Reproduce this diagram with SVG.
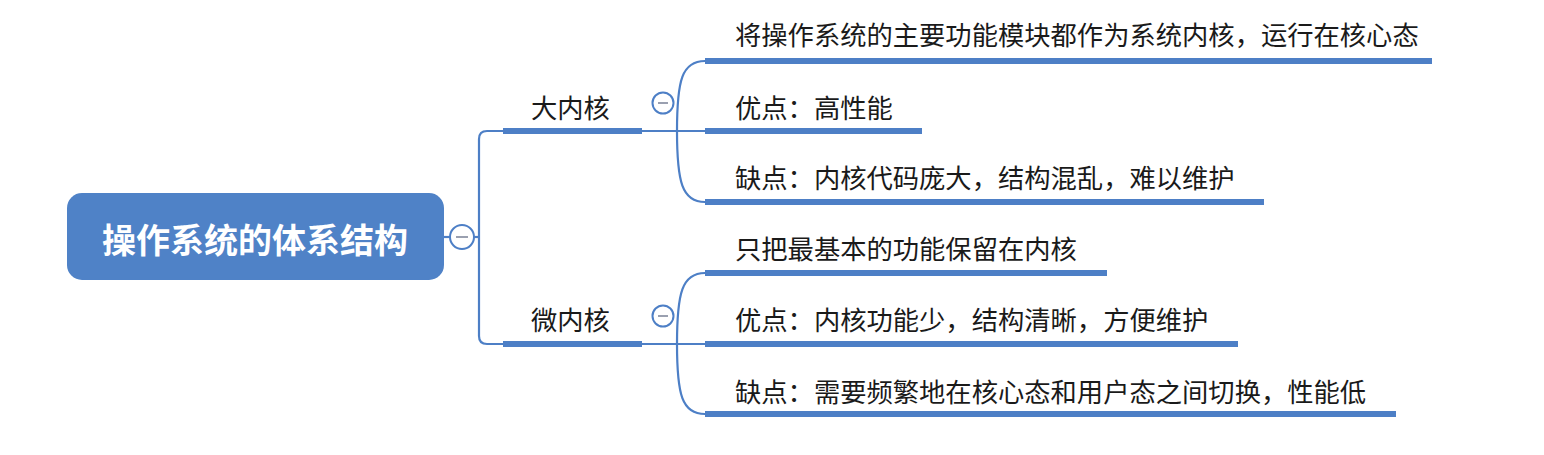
<svg xmlns="http://www.w3.org/2000/svg" width="1544" height="455" viewBox="0 0 1544 455">
<style>
.t{font-family:"Noto Sans CJK SC","Noto Sans",sans-serif;font-size:26.3px;fill:#1a1a1a;}
.root{font-family:"Noto Sans CJK SC","Noto Sans",sans-serif;font-size:34px;font-weight:bold;fill:#ffffff;}
.ul{stroke:#4d7fc6;stroke-width:6;fill:none;}
.ln{stroke:#4d7fc6;stroke-width:2.2;fill:none;}
.col{fill:#ffffff;stroke:#4d7fc6;stroke-width:2;}
.minus{stroke:#9aa0b0;stroke-width:2;}
</style>
<rect width="1544" height="455" fill="#ffffff"/>
<g id="connectors">
<path class="ln" d="M 444 237 L 450 237"/>
<path class="ln" d="M 474 237 L 479 237"/>
<path class="ln" d="M 503 131 L 487 131 Q 479 131 479 139 L 479 336 Q 479 344 487 344 L 503 344"/>
<path class="ln" d="M 642 131 L 705 131"/>
<path class="ln" d="M 677 131 C 677 80, 682 61, 705 61"/>
<path class="ln" d="M 677 131 C 677 182, 682 202, 705 202"/>
<path class="ln" d="M 642 344 L 705 344"/>
<path class="ln" d="M 677 344 C 677 293, 682 273, 705 273"/>
<path class="ln" d="M 677 344 C 677 395, 682 414, 705 414"/>
</g>
<g id="root">
<rect x="67" y="193" width="377" height="87" rx="15" fill="#4f82c7"/>
<text class="root" x="255" y="238" text-anchor="middle" dominant-baseline="central">操作系统的体系结构</text>
<circle class="col" cx="462" cy="237" r="12"/>
<line class="minus" x1="456" y1="237" x2="468" y2="237"/>
</g>
<g id="n-big">
<text class="t" x="531" y="106" dominant-baseline="central">大内核</text>
<line class="ul" x1="503" y1="131" x2="642" y2="131"/>
<circle class="col" cx="663" cy="103" r="10.5"/>
<line class="minus" x1="658" y1="103" x2="668" y2="103"/>
</g>
<g id="n-big-1">
<text class="t" x="735" y="33" dominant-baseline="central">将操作系统的主要功能模块都作为系统内核，运行在核心态</text>
<line class="ul" x1="705" y1="61" x2="1432" y2="61"/>
</g>
<g id="n-big-2">
<text class="t" x="735" y="106" dominant-baseline="central">优点：高性能</text>
<line class="ul" x1="705" y1="131" x2="922" y2="131"/>
</g>
<g id="n-big-3">
<text class="t" x="735" y="176" dominant-baseline="central">缺点：内核代码庞大，结构混乱，难以维护</text>
<line class="ul" x1="705" y1="202" x2="1264" y2="202"/>
</g>
<g id="n-micro">
<text class="t" x="531" y="318" dominant-baseline="central">微内核</text>
<line class="ul" x1="503" y1="344" x2="642" y2="344"/>
<circle class="col" cx="663" cy="316" r="10.5"/>
<line class="minus" x1="658" y1="316" x2="668" y2="316"/>
</g>
<g id="n-micro-1">
<text class="t" x="735" y="247" dominant-baseline="central">只把最基本的功能保留在内核</text>
<line class="ul" x1="705" y1="273" x2="1107" y2="273"/>
</g>
<g id="n-micro-2">
<text class="t" x="735" y="318" dominant-baseline="central">优点：内核功能少，结构清晰，方便维护</text>
<line class="ul" x1="705" y1="344" x2="1238" y2="344"/>
</g>
<g id="n-micro-3">
<text class="t" x="735" y="390" dominant-baseline="central">缺点：需要频繁地在核心态和用户态之间切换，性能低</text>
<line class="ul" x1="705" y1="414" x2="1396" y2="414"/>
</g>
</svg>
